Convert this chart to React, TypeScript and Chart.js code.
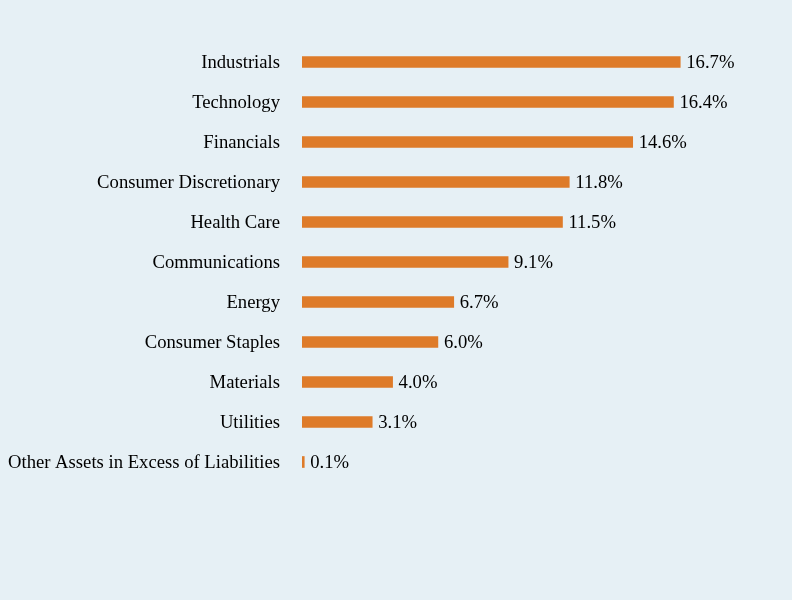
import React, { useEffect, useRef } from "react";
import { Chart, registerables } from "chart.js";

Chart.register(...registerables);

const categories = [
  "Industrials",
  "Technology",
  "Financials",
  "Consumer Discretionary",
  "Health Care",
  "Communications",
  "Energy",
  "Consumer Staples",
  "Materials",
  "Utilities",
  "Other Assets in Excess of Liabilities",
];
const values = [16.7, 16.4, 14.6, 11.8, 11.5, 9.1, 6.7, 6.0, 4.0, 3.1, 0.1];
const valueLabels = ["16.7%", "16.4%", "14.6%", "11.8%", "11.5%", "9.1%", "6.7%", "6.0%", "4.0%", "3.1%", "0.1%"];

const BG = "#e6f0f5";
const BAR = "#de7b29";
const FONT = "'Liberation Serif', 'Times New Roman', serif";
const FONT_SIZE = 18.67;

const valueLabelPlugin = {
  id: "valueLabels",
  afterDatasetsDraw(chart: any) {
    const ctx = chart.ctx;
    const meta = chart.getDatasetMeta(0);
    ctx.save();
    ctx.font = `${FONT_SIZE}px ${FONT}`;
    ctx.fillStyle = "#000";
    ctx.textAlign = "left";
    ctx.textBaseline = "middle";
    meta.data.forEach((bar: any, i: number) => {
      ctx.fillText(valueLabels[i], bar.x + 6, bar.y + 1);
    });
    ctx.restore();
  },
};

export default function App() {
  const ref = useRef<HTMLCanvasElement>(null);
  useEffect(() => {
    document.body.style.margin = "0";
    document.body.style.background = BG;
    const chart = new Chart(ref.current!, {
      type: "bar",
      data: {
        labels: categories,
        datasets: [
          {
            data: values,
            backgroundColor: BAR,
            borderWidth: 0,
            barThickness: 11,
          },
        ],
      },
      options: {
        indexAxis: "y",
        animation: false,
        responsive: true,
        maintainAspectRatio: false,
        layout: { padding: { top: 42, bottom: 118, left: 0, right: 37 } },
        plugins: {
          legend: { display: false },
          tooltip: { enabled: false },
        },
        scales: {
          x: {
            display: false,
            min: 0,
            max: 20,
          },
          y: {
            grid: { display: false, drawTicks: false },
            border: { display: false },
            ticks: {
              padding: 22,
              labelOffset: 1,
              color: "#000",
              font: { family: FONT, size: FONT_SIZE },
            },
            afterFit(scale: any) {
              scale.width = 302;
            },
          },
        },
      },
      plugins: [valueLabelPlugin],
    });
    return () => chart.destroy();
  }, []);
  return (
    <div style={{ position: "fixed", left: 0, top: 0, width: 792, height: 600, background: BG }}>
      <canvas ref={ref} />
    </div>
  );
}
